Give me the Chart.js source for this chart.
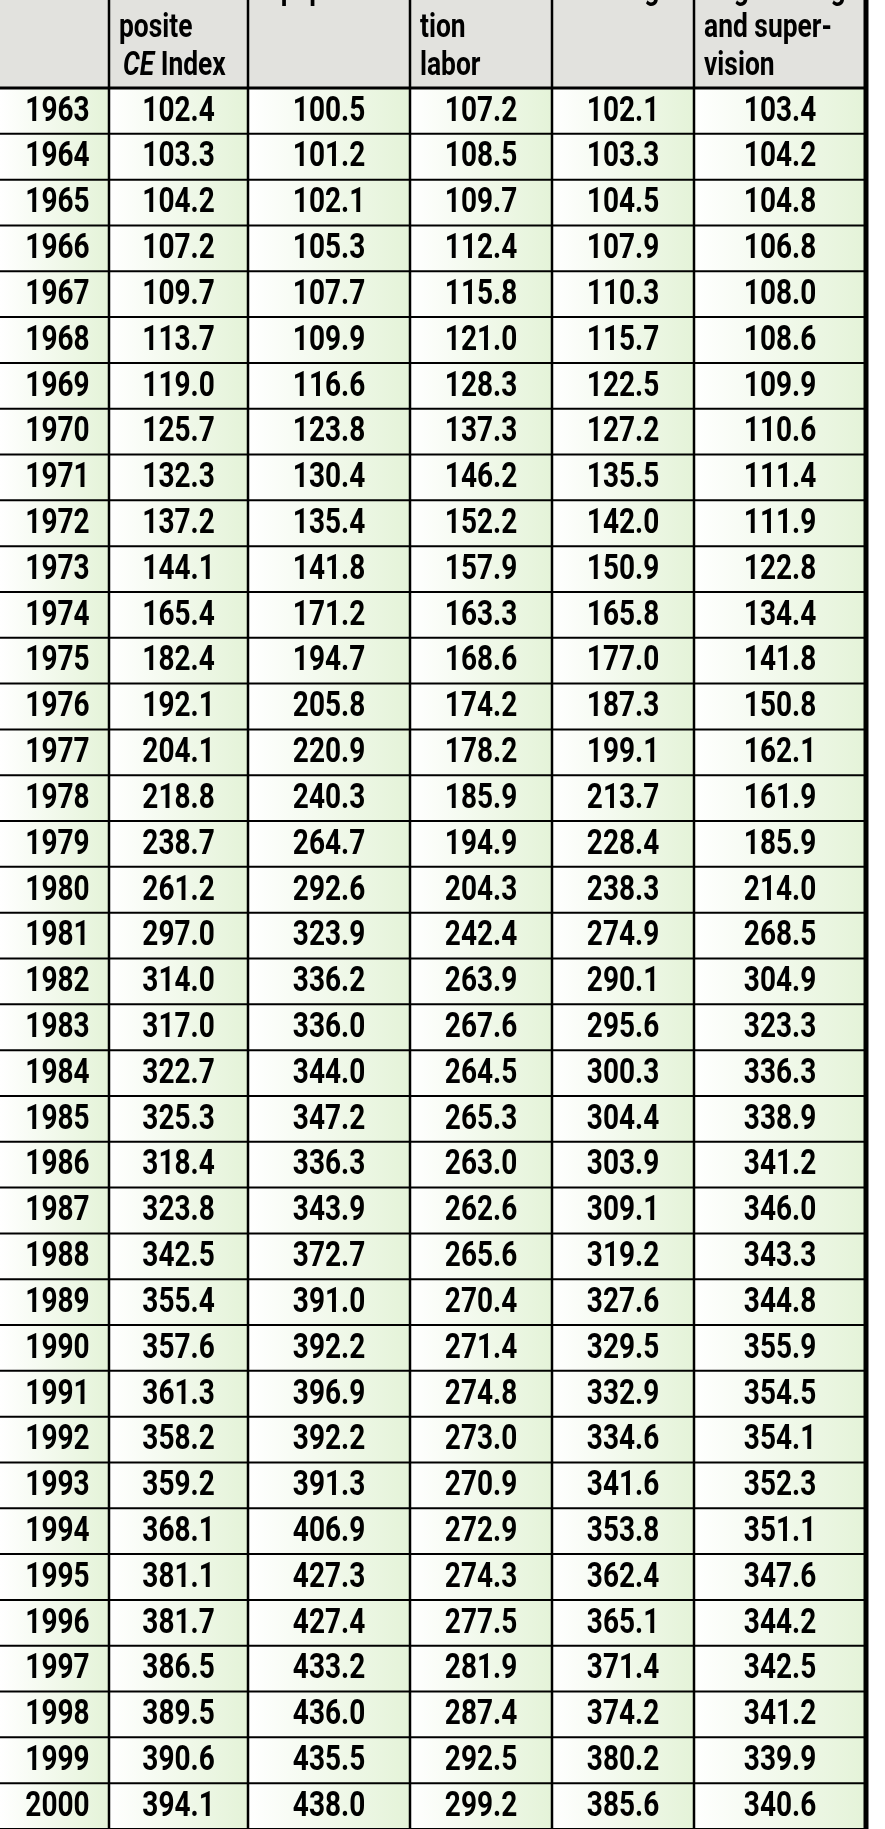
<!DOCTYPE html>
<html><head><meta charset="utf-8">
<script src="https://cdn.jsdelivr.net/npm/chart.js@4/dist/chart.umd.min.js"></script>
<style>html,body{margin:0;padding:0;background:#fff}#w{width:885px;height:1829px}</style>
</head><body><div id="w"><canvas id="c"></canvas></div>
<script>
const years=[1963,1964,1965,1966,1967,1968,1969,1970,1971,1972,1973,1974,1975,1976,1977,1978,1979,1980,1981,1982,1983,1984,1985,1986,1987,1988,1989,1990,1991,1992,1993,1994,1995,1996,1997,1998,1999,2000];
const composite=[102.4,103.3,104.2,107.2,109.7,113.7,119.0,125.7,132.3,137.2,144.1,165.4,182.4,192.1,204.1,218.8,238.7,261.2,297.0,314.0,317.0,322.7,325.3,318.4,323.8,342.5,355.4,357.6,361.3,358.2,359.2,368.1,381.1,381.7,386.5,389.5,390.6,394.1];
const equipment=[100.5,101.2,102.1,105.3,107.7,109.9,116.6,123.8,130.4,135.4,141.8,171.2,194.7,205.8,220.9,240.3,264.7,292.6,323.9,336.2,336.0,344.0,347.2,336.3,343.9,372.7,391.0,392.2,396.9,392.2,391.3,406.9,427.3,427.4,433.2,436.0,435.5,438.0];
const labor=[107.2,108.5,109.7,112.4,115.8,121.0,128.3,137.3,146.2,152.2,157.9,163.3,168.6,174.2,178.2,185.9,194.9,204.3,242.4,263.9,267.6,264.5,265.3,263.0,262.6,265.6,270.4,271.4,274.8,273.0,270.9,272.9,274.3,277.5,281.9,287.4,292.5,299.2];
const buildings=[102.1,103.3,104.5,107.9,110.3,115.7,122.5,127.2,135.5,142.0,150.9,165.8,177.0,187.3,199.1,213.7,228.4,238.3,274.9,290.1,295.6,300.3,304.4,303.9,309.1,319.2,327.6,329.5,332.9,334.6,341.6,353.8,362.4,365.1,371.4,374.2,380.2,385.6];
const engineering=[103.4,104.2,104.8,106.8,108.0,108.6,109.9,110.6,111.4,111.9,122.8,134.4,141.8,150.8,162.1,161.9,185.9,214.0,268.5,304.9,323.3,336.3,338.9,341.2,346.0,343.3,344.8,355.9,354.5,354.1,352.3,351.1,347.6,344.2,342.5,341.2,339.9,340.6];
const headers=[["Year"],["Com-","posite","CE Index"],["Equipment"],["Construc-","tion","labor"],["Buildings"],["Engineering","and super-","vision"]];
const series=[composite,equipment,labor,buildings,engineering];

const edges=[0,109,248,410,552,694,866];
const HEAD=88;
const SX=0.8;
function txt(ctx,s,px,py,align,font){
  ctx.save();ctx.font=font;ctx.translate(px,py);ctx.scale(SX,1);
  ctx.textAlign=align;ctx.fillText(s,0,0);ctx.restore();
}
function tw(ctx,s,font){ctx.save();ctx.font=font;const w=ctx.measureText(s).width*SX;ctx.restore();return w;}
const plugin={id:'tbl',afterDraw(ch){
  const ctx=ch.ctx, y=ch.scales.y, x=ch.scales.x;
  const rowH=Math.abs(y.getPixelForValue(1)-y.getPixelForValue(0));
  const rx=x.getPixelForValue(edges[6]);
  ctx.save();
  ctx.fillStyle='#e2e2de';
  ctx.fillRect(0,0,rx,HEAD);
  years.forEach((yr,i)=>{
    const cy=y.getPixelForValue(i);
    for(let c=0;c<6;c++){
      const x0=x.getPixelForValue(edges[c]),x1=x.getPixelForValue(edges[c+1]);
      const g=ctx.createLinearGradient(x0,0,x1,0);
      g.addColorStop(0,'#ffffff');g.addColorStop(1,'#e4f3d8');
      ctx.fillStyle=g;ctx.fillRect(x0,cy-rowH/2,x1-x0,rowH);
    }
  });
  ctx.strokeStyle='#000';ctx.lineWidth=2.5;
  for(let c=1;c<6;c++){const px=x.getPixelForValue(edges[c]);ctx.beginPath();ctx.moveTo(px,0);ctx.lineTo(px,1829);ctx.stroke();}
  ctx.lineWidth=5;ctx.beginPath();ctx.moveTo(rx,0);ctx.lineTo(rx,1829);ctx.stroke();
  ctx.lineWidth=3;
  ctx.beginPath();ctx.moveTo(0,HEAD);ctx.lineTo(rx,HEAD);ctx.stroke();
  ctx.lineWidth=2;
  years.forEach((yr,i)=>{const b=y.getPixelForValue(i)+rowH/2;ctx.beginPath();ctx.moveTo(0,b);ctx.lineTo(rx,b);ctx.stroke();});
  ctx.fillStyle='#000';ctx.textBaseline='middle';
  const hf='bold 33px Roboto, "Noto Sans", sans-serif';
  const hfi='italic bold 33px Roboto, "Noto Sans", sans-serif';
  headers.forEach((h,c)=>{
    const x0=x.getPixelForValue(edges[c]);
    h.forEach((line,k)=>{
      const ly=-9+k*38;
      if(line==='CE Index'){
        txt(ctx,'CE',x0+14,ly,'left',hfi);
        txt(ctx,'Index',x0+14+tw(ctx,'CE ',hfi),ly,'left',hf);
      } else {
        txt(ctx,line,x0+(c===0?22:10),ly,'left',hf);
      }
    });
  });
  const vf='bold 35px Roboto, "Noto Sans", sans-serif';
  years.forEach((yr,i)=>{
    const cy=y.getPixelForValue(i)+1;
    txt(ctx,String(yr),x.getPixelForValue((edges[0]+edges[1])/2+3),cy,'center',vf);
    series.forEach((s,c)=>{
      txt(ctx,s[i].toFixed(1),x.getPixelForValue((edges[c+1]+edges[c+2])/2),cy,'center',vf);
    });
  });
  ctx.restore();
}};
new Chart(document.getElementById('c'),{
  type:'scatter',
  data:{datasets:[{data:years.map((yr,i)=>({x:0,y:i})),pointRadius:0}]},
  options:{responsive:true,maintainAspectRatio:false,animation:false,
    layout:{padding:{top:HEAD,left:0,right:0,bottom:0}},
    plugins:{legend:{display:false},tooltip:{enabled:false}},
    scales:{
      x:{type:'linear',min:0,max:885,display:false},
      y:{type:'linear',min:-0.5,max:years.length-0.5,reverse:true,display:false}
    }},
  plugins:[plugin]
});
</script></body></html>
